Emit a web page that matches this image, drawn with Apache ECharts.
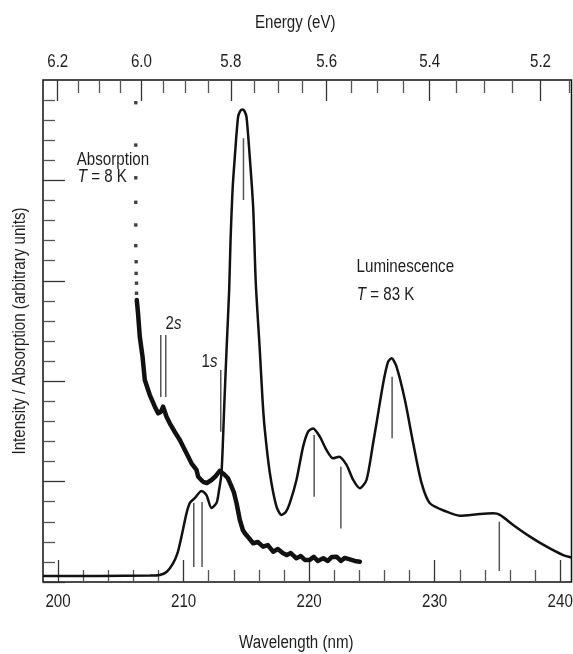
<!DOCTYPE html>
<html>
<head>
<meta charset="utf-8">
<script src="https://cdn.jsdelivr.net/npm/echarts@6/dist/echarts.min.js"></script>
<style>
html,body{margin:0;padding:0;background:#fff;}
#chart{width:573px;height:654px;}
</style>
</head>
<body>
<div id="chart"></div>
<script>
// ---- data ----
const HC = 1239.84; // eV*nm
const wavelengthMajor = [200, 210, 220, 230, 240];
const wavelengthMinor = [202, 204, 206, 208, 212, 214, 216, 218, 222, 224, 226, 228, 232, 234, 236, 238];
const energyMajor = [6.2, 6.0, 5.8, 5.6, 5.4, 5.2];
const energyMinor = [6.15, 6.1, 6.05, 5.95, 5.9, 5.85, 5.75, 5.7, 5.65, 5.55, 5.5, 5.45, 5.35, 5.3, 5.25, 5.15];
const intensityMajor = [0, 5, 10, 15, 20];
const intensityMinor = [1,2,3,4,6,7,8,9,11,12,13,14,16,17,18,19,21,22,23,24];

// Luminescence, T = 83 K
const lumWl = [198.8, 203.32, 207.31, 208.10, 208.64, 209.16, 209.54, 209.83, 210.23, 210.49, 210.89, 211.43, 211.82, 212.22, 212.62, 212.80, 213.02, 213.24, 213.42, 213.63, 213.74, 213.90, 214.08, 214.34, 214.52, 214.69, 214.84, 215.01, 215.27, 215.54, 215.75, 216.07, 216.29, 216.47, 216.87, 217.40, 217.80, 218.14, 218.46, 218.99, 219.52, 219.92, 220.32, 220.85, 221.39, 221.91, 222.39, 222.98, 223.51, 224.04, 224.57, 225.10, 225.37, 225.90, 226.29, 226.57, 226.96, 227.63, 228.29, 228.96, 229.62, 230.95, 232.01, 233.61, 234.66, 235.20, 236.25, 237.59, 238.92, 240.24, 240.90];
const lumI  = [0.30, 0.30, 0.32, 0.35, 0.50, 0.93, 1.49, 2.26, 3.42, 3.93, 4.18, 4.53, 4.33, 3.69, 3.93, 4.48, 5.43, 8.81, 11.55, 14.54, 17.03, 19.52, 21.17, 23.16, 23.46, 23.53, 23.46, 23.16, 21.17, 18.68, 14.89, 11.55, 9.06, 7.57, 5.43, 3.75, 3.34, 3.49, 3.93, 5.08, 6.74, 7.49, 7.65, 7.24, 6.57, 6.16, 6.24, 5.83, 5.08, 4.67, 5.08, 6.92, 7.92, 9.90, 10.97, 11.14, 10.72, 9.06, 6.91, 4.92, 3.92, 3.50, 3.30, 3.39, 3.42, 3.34, 2.84, 2.26, 1.76, 1.34, 1.22];

// Absorption, T = 8 K : sparse points at the steep edge
const absDotWl = [206.19, 206.19, 206.19, 206.19, 206.19, 206.19, 206.22, 206.22, 206.25, 206.25];
const absDotI  = [23.87, 21.76, 20.13, 18.91, 17.78, 16.75, 15.95, 15.37, 14.88, 14.38];
// Absorption, dense (noisy) part
const absWl = [206.27, 206.37, 206.51, 206.73, 206.91, 207.31, 207.71, 207.97, 208.18, 208.37, 208.64, 208.90, 209.30, 209.70, 210.10, 210.63, 211.03, 211.16, 211.55, 211.85, 212.22, 212.57, 212.88, 213.20, 213.52, 213.82, 214.00, 214.22, 214.48, 214.72, 214.88, 215.20, 215.54, 215.91, 216.33, 216.71, 217.13, 217.51, 217.90, 218.20, 218.54, 218.99, 219.34, 219.66, 220.05, 220.37, 220.69, 221.12, 221.49, 221.81, 222.18, 222.53, 222.84, 223.24, 223.64, 224.04];
const absI  = [14.04, 13.38, 12.22, 11.22, 10.06, 9.31, 8.73, 8.40, 8.47, 8.73, 8.23, 7.90, 7.47, 7.07, 6.57, 5.91, 5.58, 5.24, 4.99, 4.93, 5.08, 5.28, 5.53, 5.38, 5.18, 4.75, 4.48, 3.92, 3.09, 2.59, 2.43, 2.19, 1.93, 1.99, 1.76, 1.84, 1.51, 1.64, 1.44, 1.34, 1.44, 1.18, 1.29, 1.10, 1.10, 1.25, 1.05, 1.18, 1.05, 1.25, 1.26, 1.05, 1.20, 1.13, 1.05, 1.01];

// Vertical marker lines (wavelength, lower and upper intensity)
const markerWl   = [208.18, 208.58, 212.96, 210.81, 211.47, 214.77, 220.40, 222.53, 226.61, 235.15];
const markerLow  = [9.21, 9.21, 7.48, 0.75, 0.75, 19.02, 4.25, 2.67, 7.16, 0.55];
const markerHigh = [12.30, 12.30, 10.56, 3.93, 3.99, 22.10, 7.32, 5.74, 10.22, 3.00];

// Text annotations (anchor in data coordinates)
const noteText = ['Absorption', '{i|T} = 8 K', '2{i|s}', '1{i|s}', 'Luminescence', '{i|T} = 83 K'];
const noteWl   = [201.49, 201.57, 208.56, 211.43, 223.78, 223.80];
const noteI    = [21.02, 20.17, 12.85, 10.96, 15.69, 14.29];

const xAxisTitle = 'Wavelength (nm)';
const topAxisTitle = 'Energy (eV)';
const yAxisTitle = 'Intensity / Absorption (arbitrary units)';

// ---- chart ----
const FONT_FAMILY = "'Liberation Sans', Arial, sans-serif";
const FONT_SIZE = 18;
const SQUEEZE = 0.84;   // condensed face look
const TXT = '#1e1e1e';
const XMIN = 198.8, XMAX = 240.9, YMIN = 0, YMAX = 25;

const zip = (a, b) => a.map((v, i) => [v, b[i]]);

function xAxisBase(extra) {
  return Object.assign({
    type: 'value', min: XMIN, max: XMAX, gridIndex: 0,
    axisLine: { show: false }, splitLine: { show: false }, axisLabel: { show: false }
  }, extra);
}
function yAxisBase(extra) {
  return Object.assign({
    type: 'value', min: YMIN, max: YMAX, position: 'left', gridIndex: 0,
    axisLine: { show: false }, splitLine: { show: false }, axisLabel: { show: false }
  }, extra);
}
const tick = (len, vals, color) => ({ show: true, inside: true, length: len, customValues: vals, lineStyle: { color: color, width: 1.3 } });

const series = [];
markerWl.forEach((w, i) => {
  series.push({
    type: 'line', silent: true, symbol: 'none',
    data: [[w, markerLow[i]], [w, markerHigh[i]]],
    lineStyle: { color: '#555', width: 1.5 }, z: 2
  });
});
series.push({
  type: 'line', name: 'Luminescence', data: zip(lumWl, lumI), symbol: 'none', smooth: 0.25,
  lineStyle: { color: '#111', width: 2.5 }, z: 4
});
series.push({
  type: 'line', name: 'Absorption', data: zip(absWl, absI), symbol: 'none',
  lineStyle: { color: '#111', width: 4.5, cap: 'round', join: 'round' }, z: 4
});
series.push({
  type: 'scatter', name: 'AbsorptionDots', data: zip(absDotWl, absDotI), symbol: 'rect', symbolSize: 3.4,
  itemStyle: { color: '#111' }, z: 4
});

const chart = echarts.init(document.getElementById('chart'), null, { renderer: 'canvas' });
chart.setOption({
  backgroundColor: '#fff',
  animation: false,
  grid: { left: 43, top: 80, right: 1.5, bottom: 72, show: true, borderColor: '#111', borderWidth: 1.5,
          backgroundColor: 'transparent', outerBoundsMode: 'none', containLabel: false },
  xAxis: [
    xAxisBase({ position: 'bottom', axisTick: tick(22, wavelengthMajor, '#333') }),
    xAxisBase({ position: 'bottom', axisTick: tick(12, wavelengthMinor, '#555') }),
    xAxisBase({ position: 'top', axisTick: tick(21, energyMajor.map(e => HC / e), '#333') }),
    xAxisBase({ position: 'top', axisTick: tick(13, energyMinor.map(e => HC / e), '#555') })
  ],
  yAxis: [
    yAxisBase({ axisTick: tick(22, intensityMajor, '#333') }),
    yAxisBase({ axisTick: tick(12, intensityMinor, '#555') })
  ],
  series: series
});

// ---- text (real text, placed through the axes' own scales) ----
const font = FONT_SIZE + 'px ' + FONT_FAMILY;
const rich = { i: { fontStyle: 'italic', fontSize: FONT_SIZE, fontFamily: FONT_FAMILY, fill: TXT } };
function txt(text, x, y, align, rot) {
  return {
    type: 'text', x: x, y: y, scaleX: SQUEEZE, rotation: rot || 0, silent: true, z: 10,
    style: { text: text, font: font, fill: TXT, align: align || 'center', verticalAlign: 'middle', rich: rich }
  };
}
const gridRect = chart.getModel().getComponent('grid', 0).coordinateSystem.getRect();
const graphics = [];
wavelengthMajor.forEach(v => {
  const x = chart.convertToPixel({ xAxisIndex: 0 }, v);
  graphics.push(txt(String(v), x, gridRect.y + gridRect.height + 20));
});
energyMajor.forEach(e => {
  const x = chart.convertToPixel({ xAxisIndex: 2 }, HC / e);
  graphics.push(txt(e.toFixed(1), x, gridRect.y - 17.5));
});
const cx = gridRect.x + gridRect.width / 2;
graphics.push(txt(xAxisTitle, cx - 11, gridRect.y + gridRect.height + 61));
graphics.push(txt(topAxisTitle, cx - 12, gridRect.y - 57));
graphics.push(txt(yAxisTitle, gridRect.x - 23, gridRect.y + gridRect.height / 2, 'center', Math.PI / 2));
noteText.forEach((t, i) => {
  const p = chart.convertToPixel({ gridIndex: 0 }, [noteWl[i], noteI[i]]);
  graphics.push(txt(t, p[0], p[1], 'left'));
});
chart.setOption({ graphic: graphics });
</script>
</body>
</html>
